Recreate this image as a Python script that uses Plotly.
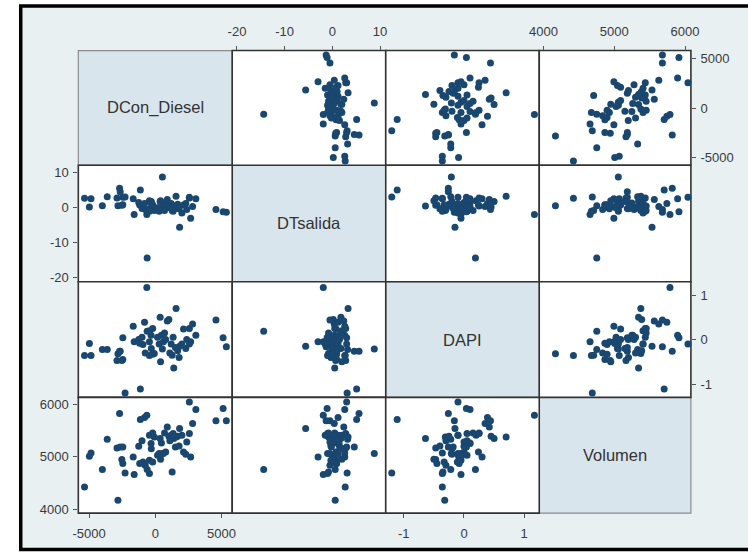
import plotly.graph_objects as go

# Variables of the scatter-plot matrix
names = ["DCon_Diesel", "DTsalida", "DAPI", "Volumen"]

dcon = [-5343, -4976, -4853, -3995, -3627, -2819, -2696, -2892, -2647, -2451,
        -2524, -2451, -2279, -1667, -1593, -1250, -1176, -1127, -809, -637,
        -931, -760, -613, -441, -441, -196, -74, -319, -441, -196,
        172, 294, 368, 466, 539, 613, 784, 907, 1029, 1201,
        1275, 1348, 1397, 1520, 1569, 1691, 1838, 2010, 2132, 2304,
        2377, 2574, 2672, 2819, 2574, 3064, 4583, 5123, 5368, 1100,
        -300, 700, 1800, -1000, 400]

dtsalida = [2.7, 0.2, 2.6, 0.6, 3.2, 0.6, 5.6, 2.8, 4.6, 3.0,
            0.7, 0.9, 3.1, 2.6, -1.9, 1.5, 0.8, 5.1, 1.2, -1.9,
            0.3, -0.5, -14.4, -1.0, 2.0, 0.5, -0.8, 1.4, -0.3, 0.9,
            0.0, -1.0, 1.8, 0.4, 8.8, -0.5, 1.0, 2.4, 0.2, 1.2,
            -0.8, -1.0, 0.5, -0.2, 3.3, 1.0, -5.6, -1.5, 0.8, 1.2,
            -0.5, 2.8, -3.0, 0.4, 3.0, 2.6, -0.5, -1.1, -1.3, 0.0,
            1.8, -0.8, -0.3, -0.2, 2.0]

dapi = [-0.36, -0.09, -0.36, -0.22, -0.22, -0.32, -0.26, -0.47, -0.26, 0.04,
        -0.47, -0.45, -1.20, 0.30, -0.05, 0.00, -0.08, -1.11, 0.39, 1.17,
        -0.11, -0.30, 0.19, -0.36, 0.20, 0.25, -0.31, 0.10, -0.05, -0.33,
        0.05, -0.10, 0.50, 0.10, -0.21, -0.05, 0.00, 0.42, 0.45, -0.10,
        -0.35, 0.05, -0.64, -0.18, 0.70, -0.25, -0.15, -0.10, 0.24, -0.20,
        0.00, 0.25, -0.05, 0.35, -0.10, 0.10, 0.44, 0.04, -0.16, -0.30,
        -0.20, 0.15, -0.40, 0.05, -0.50]

volumen = [4422, 5006, 5070, 4752, 5330, 4168, 5819, 5165, 5184, 5184,
           4943, 4867, 4689, 4994, 4657, 5197, 4867, 5705, 5743, 5787,
           4898, 4835, 4752, 4676, 5406, 5451, 5375, 5248, 4930, 4898,
           5025, 5057, 5343, 5260, 5057, 5057, 5089, 5565, 5387, 5406,
           4708, 5438, 5343, 5184, 5375, 5387, 5533, 5406, 5089, 5044,
           5279, 5438, 4994, 5629, 6041, 5895, 5680, 5914, 5680, 5300,
           5150, 5450, 5200, 5300, 4950]

series = [dcon, dtsalida, dapi, volumen]

# Tick values per variable
tick_vals = [[-5000, 0, 5000], [-20, -10, 0, 10], [-1, 0, 1], [4000, 5000, 6000]]

# Axis ranges per variable (horizontal and vertical use)
x_ranges = [[-5811, 5811], [-21.0, 11.2], [-1.30, 1.25], [3939, 6083]]
y_ranges = [[-5760, 5830], [-21.2, 12.2], [-1.30, 1.30], [3925, 6126]]

W, H = 748, 559
x_edges = [70, 227.7, 385, 542.3, 697.7]
y_edges = [50, 165.7, 283.3, 400, 516.7]

MARKER = "#1a476f"
FONT_FAMILY = "Liberation Sans, Arial, sans-serif"
TICK_FONT = dict(family=FONT_FAMILY, size=13, color="#3a3a3a")

fig = go.Figure()
layout = dict(
    width=W, height=H,
    margin=dict(l=0, r=0, t=0, b=0),
    paper_bgcolor="white",
    plot_bgcolor="rgba(0,0,0,0)",
    showlegend=False,
)


def px(x):
    return x / W


def py(y):
    return 1 - y / H


shapes = []
# Outer graph frame
shapes.append(dict(type="rect", xref="paper", yref="paper",
                   x0=px(11), x1=px(760), y0=py(553.5), y1=py(5),
                   line=dict(color="black", width=3.5),
                   fillcolor="#e8f0f2", layer="below"))

annotations = []
k = 0
diag_shapes = []
cell_shapes = []
for i in range(4):
    for j in range(4):
        x0, x1 = px(x_edges[j]), px(x_edges[j + 1])
        y0, y1 = py(y_edges[i + 1]), py(y_edges[i])
        if i == j:
            diag_shapes.append(dict(type="rect", xref="paper", yref="paper",
                                    x0=x0, x1=x1, y0=y0, y1=y1,
                                    line=dict(color="#8c8c8c", width=1.2),
                                    fillcolor="#d9e5ec", layer="below"))
            annotations.append(dict(text=names[i], xref="paper", yref="paper",
                                    x=(x0 + x1) / 2, y=(y0 + y1) / 2,
                                    xanchor="center", yanchor="middle",
                                    showarrow=False,
                                    font=dict(family=FONT_FAMILY,
                                              size=16.5, color="#333333")))
            continue
        k += 1
        sfx = "" if k == 1 else str(k)
        cell_shapes.append(dict(type="rect", xref="paper", yref="paper",
                                x0=x0, x1=x1, y0=y0, y1=y1,
                                line=dict(color="#333333", width=1.6),
                                fillcolor="white", layer="below"))

        # which edges carry tick labels
        show_x = (j % 2 == 1 and i == 0) or (j % 2 == 0 and i == 3)
        show_y = (i % 2 == 0 and j == 3) or (i % 2 == 1 and j == 0)

        xa = dict(domain=[x0, x1], range=x_ranges[j], anchor="y" + sfx,
                  showgrid=False, zeroline=False, showline=False,
                  fixedrange=True)
        ya = dict(domain=[y0, y1], range=y_ranges[i], anchor="x" + sfx,
                  showgrid=False, zeroline=False, showline=False,
                  fixedrange=True)
        if show_x:
            xa.update(side="top" if i == 0 else "bottom",
                      tickmode="array", tickvals=tick_vals[j],
                      ticktext=[str(v) for v in tick_vals[j]],
                      ticks="outside", ticklen=4, tickwidth=1,
                      tickcolor="#555555", tickfont=TICK_FONT,
                      ticklabelstandoff=4,
                      showticklabels=True)
        else:
            xa.update(showticklabels=False, ticks="")
        if show_y:
            ya.update(side="right" if j == 3 else "left",
                      tickmode="array", tickvals=tick_vals[i],
                      ticktext=[str(v) for v in tick_vals[i]],
                      ticks="outside", ticklen=4, tickwidth=1,
                      tickcolor="#555555", tickfont=TICK_FONT,
                      ticklabelstandoff=2,
                      showticklabels=True)
        else:
            ya.update(showticklabels=False, ticks="")

        layout["xaxis" + sfx] = xa
        layout["yaxis" + sfx] = ya

        fig.add_trace(go.Scatter(
            x=series[j], y=series[i], mode="markers",
            marker=dict(size=7, color=MARKER, line=dict(width=0)),
            xaxis="x" + sfx, yaxis="y" + sfx,
            hoverinfo="skip", cliponaxis=False,
        ))

layout["shapes"] = shapes + diag_shapes + cell_shapes
layout["annotations"] = annotations
fig.update_layout(**layout)

fig.write_html("out.html")
